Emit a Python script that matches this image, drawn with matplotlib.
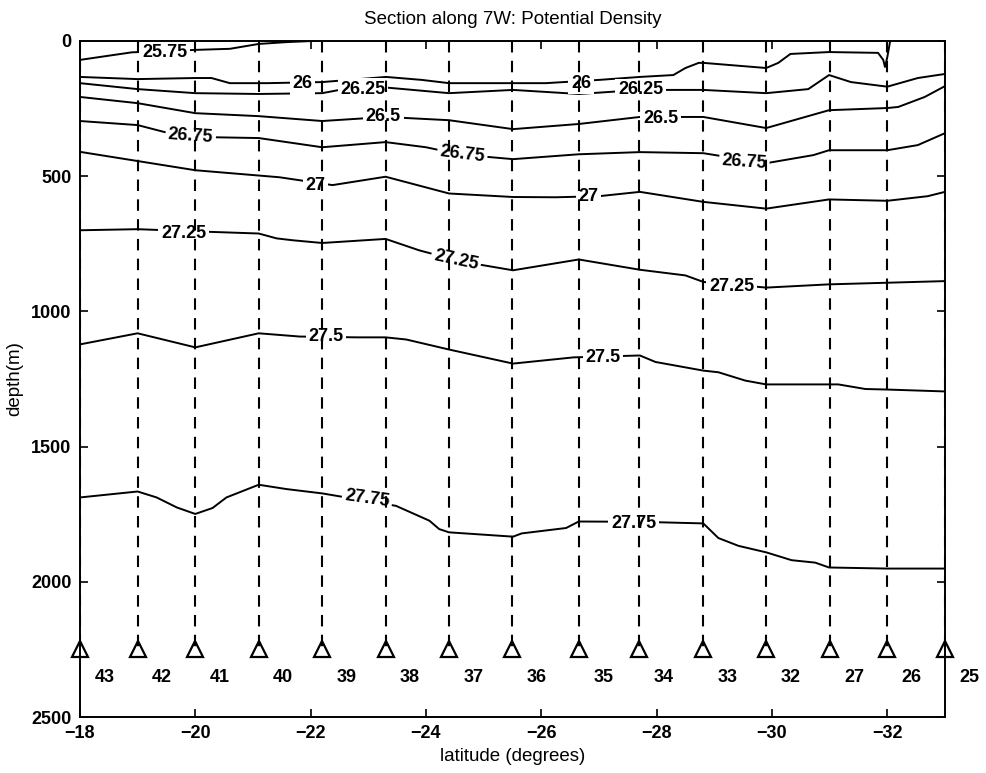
import numpy as np
import matplotlib.pyplot as plt

plt.rcParams['font.family'] = ['Liberation Sans', 'DejaVu Sans']

# station numbers and their latitudes
stations = [43, 42, 41, 40, 39, 38, 37, 36, 35, 34, 33, 32, 27, 26, 25]
station_lat = [-18.0, -19.0, -20.0, -21.1, -22.2, -23.3, -24.4, -25.5,
               -26.65, -27.7, -28.8, -29.9, -31.0, -32.0, -33.0]
station_depth = 2250

# isopycnal depths (m)
lat_2575 = [-18.0, -18.9, -20.0, -20.6, -21.1, -21.6, -22.05]
dep_2575 = [70, 42, 33, 29, 11, 4, 0]

lat_26 = [-18.0, -19.0, -20.0, -20.28, -20.6, -21.25, -22.2, -23.31, -23.93,
          -24.4, -25.51, -26.08, -27.0, -27.71, -28.29, -28.5, -28.73, -28.81,
          -29.9, -30.11, -30.32, -30.99, -31.84, -31.93, -31.96, -32.0, -32.05]
dep_26 = [133, 141, 137, 137, 156, 156, 152, 133, 144,
          156, 156, 156, 144, 133, 126, 100, 81, 81,
          100, 81, 48, 41, 44, 70, 96, 60, 0]

lat_2625 = [-18.0, -19.0, -20.0, -21.1, -22.2, -22.5, -23.3, -24.4, -25.51,
            -26.65, -27.71, -28.81, -29.9, -30.63, -30.99, -31.37, -32.0,
            -32.53, -33.0]
dep_2625 = [156, 178, 193, 196, 193, 181, 172, 193, 181,
            196, 181, 181, 193, 178, 126, 152, 169,
            137, 122]

lat_265 = [-18.0, -19.0, -20.0, -21.1, -22.2, -23.3, -24.4, -25.51, -26.65,
           -27.71, -28.81, -29.9, -30.99, -32.0, -32.19, -32.65, -33.0]
dep_265 = [207, 230, 267, 278, 296, 281, 293, 326, 307,
           281, 281, 322, 256, 248, 244, 207, 167]

lat_2675 = [-18.0, -19.0, -19.47, -20.3, -21.1, -22.2, -23.3, -24.0, -24.6,
            -25.51, -26.65, -27.71, -28.81, -29.9, -30.72, -30.99, -32.0,
            -32.53, -33.0]
dep_2675 = [296, 311, 337, 356, 359, 393, 374, 393, 420,
            437, 419, 411, 415, 452, 422, 404, 404,
            385, 341]

lat_27 = [-18.0, -19.0, -20.0, -21.46, -22.38, -23.3, -24.4, -25.51, -26.25,
          -27.0, -27.71, -28.81, -29.9, -30.99, -32.0, -32.7, -33.0]
dep_27 = [410, 444, 478, 504, 533, 502, 564, 577, 578,
          574, 558, 595, 620, 586, 591, 574, 558]

lat_2725 = [-18.0, -19.0, -20.0, -21.1, -21.41, -21.69, -22.2, -23.3, -23.88,
            -24.6, -25.51, -26.65, -27.71, -28.5, -28.81, -29.9, -30.99,
            -32.0, -33.0]
dep_2725 = [700, 696, 704, 712, 730, 737, 747, 732, 774,
            815, 848, 808, 846, 867, 891, 912, 900,
            894, 888]

lat_275 = [-18.0, -19.0, -20.0, -21.1, -21.81, -22.8, -23.3, -23.66, -24.4,
           -25.51, -26.56, -27.71, -27.98, -28.81, -29.07, -29.54, -29.9,
           -30.99, -31.15, -31.62, -32.0, -33.0]
dep_275 = [1122, 1081, 1133, 1081, 1093, 1096, 1096, 1104, 1141,
           1193, 1170, 1163, 1187, 1219, 1225, 1256, 1270,
           1270, 1270, 1287, 1289, 1296]

lat_2775 = [-18.0, -19.0, -19.33, -19.68, -20.0, -20.3, -20.54, -21.1, -21.58,
            -22.2, -23.48, -24.06, -24.23, -24.4, -25.51, -25.66, -26.43,
            -26.65, -27.71, -28.81, -29.07, -29.42, -29.9, -30.34, -30.75,
            -30.99, -32.0, -33.0]
dep_2775 = [1688, 1666, 1688, 1725, 1749, 1727, 1688, 1641, 1657,
            1673, 1719, 1774, 1805, 1817, 1833, 1821, 1801,
            1777, 1778, 1784, 1838, 1867, 1891, 1920, 1929,
            1947, 1951, 1951]

isopycnals = [
    (lat_2575, dep_2575), (lat_26, dep_26), (lat_2625, dep_2625),
    (lat_265, dep_265), (lat_2675, dep_2675), (lat_27, dep_27),
    (lat_2725, dep_2725), (lat_275, dep_275), (lat_2775, dep_2775),
]

# contour label text with placement (lat, depth, rotation)
label_text = ['25.75', '26', '26.25', '26.5', '26.75', '27', '27.25', '26.75',
              '27.25', '27.5', '27.75', '26', '26.25', '26.5', '26.75', '27',
              '27.25', '27.5', '27.75']
label_spots = [(-19.47, 41, 0), (-21.86, 159, 0), (-22.91, 178, 0),
               (-23.26, 281, 0), (-19.92, 352, -4), (-22.08, 533, 0),
               (-19.8, 711, 0), (-24.63, 420, -7), (-24.52, 811, -12),
               (-22.27, 1093, 0), (-22.98, 1693, -8), (-26.69, 156, 0),
               (-27.72, 181, 0), (-28.07, 285, 0), (-29.52, 448, -4),
               (-26.82, 574, 0), (-29.3, 907, 0), (-27.07, 1170, 0),
               (-27.6, 1785, 0)]

fig = plt.figure(figsize=(9.87, 7.73), dpi=100)
ax = fig.add_axes([0.081, 0.0724, 0.8764, 0.8746])

for lat, dep in isopycnals:
    ax.plot(lat, dep, color='black', lw=1.4, zorder=1)

for txt, (la, de, rot) in zip(label_text, label_spots):
    ax.text(la, de, txt, ha='center', va='center', fontsize=13,
            fontweight='bold', rotation=rot, zorder=2,
            bbox=dict(boxstyle='square,pad=0.15', fc='white', ec='none'))

# station lines and markers
for s in station_lat:
    ax.plot([s, s], [0, station_depth], color='black', lw=1.5,
            dashes=[5.5, 4], zorder=3)
ax.plot(station_lat, [station_depth] * len(station_lat), '^', ms=11,
        mfc='none', mec='black', mew=1.6, zorder=4, clip_on=False)
for s, n in zip(station_lat, stations):
    ax.text(s - 0.25, 2355, str(n), ha='left', va='center', fontsize=13,
            fontweight='bold', clip_on=False)

ax.set_xlim(-18, -33)
ax.set_ylim(2500, 0)
ax.set_xticks(np.arange(-18, -33, -2))
ax.set_yticks([0, 500, 1000, 1500, 2000, 2500])
ax.set_xticklabels(['\u221218', '\u221220', '\u221222', '\u221224',
                    '\u221226', '\u221228', '\u221230', '\u221232'])
ax.tick_params(direction='in', top=True, right=True, length=6, width=1.2,
               labelsize=13, pad=6)
for lab in ax.get_xticklabels() + ax.get_yticklabels():
    lab.set_fontweight('bold')
for sp in ax.spines.values():
    sp.set_linewidth(1.4)

ax.set_title('Section along 7W: Potential Density', fontsize=13.5, pad=12)
ax.set_xlabel('latitude (degrees)', fontsize=13.5, labelpad=4)
ax.set_ylabel('depth(m)', fontsize=13.5)
ax.yaxis.set_label_coords(-0.065, 0.5)

fig.savefig('out.png', dpi=100)
